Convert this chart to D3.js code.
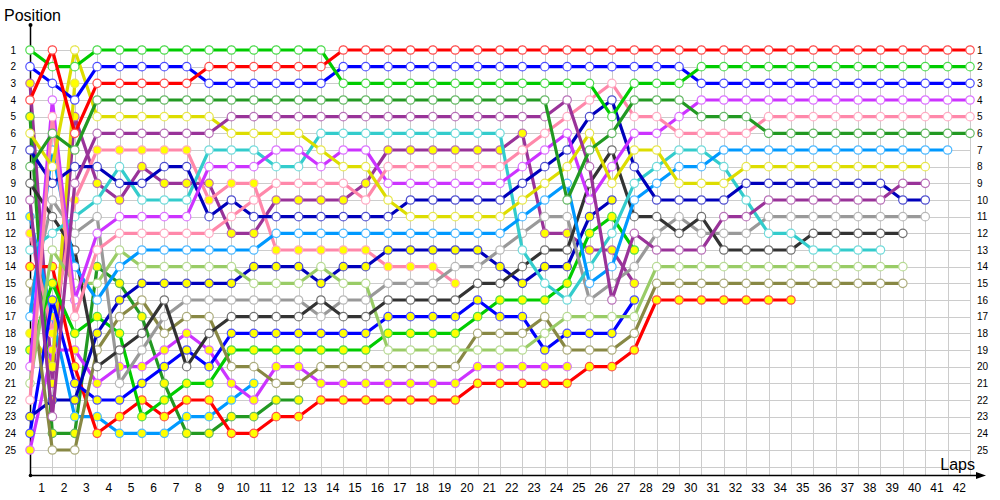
<!DOCTYPE html>
<html><head><meta charset="utf-8">
<script src="https://cdn.jsdelivr.net/npm/d3@7/dist/d3.min.js"></script>
<style>body{margin:0;background:#fff}svg{display:block}text{font-family:"Liberation Sans",Arial,sans-serif}</style>
</head><body><svg id="c" width="1000" height="500"></svg>
<script>
const laps = d3.range(0, 43);          // 0 = grid, 1..42 laps
const lapLabels = d3.range(1, 43);
const positions = d3.range(1, 26);
const rep = (v, n) => Array(n).fill(v);

// white-marker drivers
const redW    = [4,1,6,3,3,3,3,3,2,2,2,2,2,2, ...rep(1,29)];
const greenW  = [1,2,2, ...rep(1,11), ...rep(3,12), 5,3,3,3, ...rep(2,13)];
const blueW   = [2,3,4, ...rep(2,5), ...rep(3,6), ...rep(2,16), ...rep(3,13)];
const dkgreenW= [8,6,7, ...rep(4,21), 10,7,6,4,4,4,5,5,5, ...rep(6,10)];
const purpleW = [10,23,9, ...rep(6,6), ...rep(5,15), 4,8,16,12,13,13,13,11,11, ...rep(10,6), 9,9];
const yellowW = [6,8,1, ...rep(5,6), 6,6,6,6,7,8,8,10, ...rep(11,5), 10,9,8,6,9,7,7,9,9,9, ...rep(8,9)];
const pinkW   = [22,5,17,13, ...rep(12,5), 11,10,9,9,9,9,10, ...rep(8,6), 7,6,5,4,3,5,5,6,6,6,6, ...rep(5,10)];
const cyanW   = [13,12,11,10,8,10,10,10,7,7,7,8,8, ...rep(6,9), 13,15,16,14,12,9,8,7,7,8,10,12,12,13,13,13,13];
const navyW   = [7,9,8,8,9,9,8,8,11,10, ...rep(11,7), ...rep(10,5), 9,8,7,5,4,8,10,10,10,10, ...rep(9,7), 10,10];
const violetW = [20,4,16,12,11,11,11,11,8,8,8,7,7,8,7,7, ...rep(9,6), 8,7,6,10,8,6,6,5, ...rep(4,13)];
const ltblueW = [17,7,14,16,14, ...rep(13,6), ...rep(12,11), 11,10,9,15,14,10,9,8,8, ...rep(7,11)];
const grayW   = [16,10,12,11,21,19,17, ...rep(16,6), 17,16,16,15,15,15,14,14,13,12,11,11,16,15,14,12,11,12,12,12, ...rep(11,8)];
const dkgrayW = [9,11,13,20,19,18,16,20,18,17,17,17,17,16,17,17,16,16,16,16,15,15,14,13,13,9,7,11,11,12,11,13,13,13,13, ...rep(12,5)];
const oliveW  = [15,25,25,19,17,16,18,17,17,20,20,21,21, ...rep(20,7), 18,18,18,17,19,19,19,18, ...rep(15,12)];
const ltgreenW= [21,13,15,15,13, ...rep(14,5), 15,15,15,14,15,15, ...rep(19,7), 18,17,17,17,17, ...rep(14,12)];
// yellow-marker drivers
const redY    = [14,14,20,24,23,22,23,22,22,24,24,23,23, ...rep(22,7), ...rep(21,5), 20,20,19, ...rep(16,7)];
const greenY  = [19,15,18,17,18,23,22,21,21, ...rep(19,7), 18,18,18,18,17,16,16,16,15,12,11,13];
const blueY   = [24,16,21,22,22,21,20,19,20, ...rep(18,7), 17,17,17,17,16,17,17,19,18,18,18,16];
const navyY   = [23,22,22,18,16,15,15,15,15,15,14,14,14,15,14,14, ...rep(13,5), 14,15,14,14,11,10];
const purpleY = [3,21,5,9,10,8,9,9,9,12,12,10,10,10,10,9, ...rep(7,6), 6,12,12,13,13,15];
const dkgreenY= [5,24,24,14,15,17,21,24,24,23,23,22,22];
const ltblueY = [11,17,23,23,24,24,24,23,23,22,21];
const pinkY   = [12,18,10,7,7,7,7,7,10,9,9,13,13,13,13,13,14,14,14,15];
const violetY = [25,19,19,21,20,20,19,18,19,21,22,20,20, ...rep(21,7), ...rep(20,5)];
const yellowY = [18,20,3];

const seriesList = [
  [purpleY,"#993399",1],[dkgreenY,"#229922",1],[ltblueY,"#0099ff",1],[pinkY,"#ff88aa",1],
  [violetY,"#cc33ff",1],[yellowY,"#dddd00",1],[redY,"#ff0000",1],[greenY,"#00cc00",1],
  [blueY,"#0000ff",1],[navyY,"#0000bb",1],
  [oliveW,"#888844",0],[ltgreenW,"#99cc66",0],[grayW,"#999999",0],[dkgrayW,"#333333",0],
  [cyanW,"#33cccc",0],[ltblueW,"#0099ff",0],[navyW,"#0000bb",0],[violetW,"#cc33ff",0],
  [pinkW,"#ff88aa",0],[yellowW,"#dddd00",0],[purpleW,"#993399",0],[dkgreenW,"#229922",0],
  [blueW,"#0000ff",0],[greenW,"#00cc00",0],[redW,"#ff0000",0]
];

const svg = d3.select("#c");
const x = d3.scaleLinear().domain([0,42]).range([30,970]);
const y = d3.scaleLinear().domain([1,25]).range([50,450]);

// grid
const g = svg.append("g").attr("stroke","#cccccc").attr("stroke-width",1);
g.selectAll("line.v").data(laps.slice(1)).join("line")
  .attr("x1",d=>Math.round(x(d))+0.5).attr("x2",d=>Math.round(x(d))+0.5)
  .attr("y1",45).attr("y2",475);
g.selectAll("line.h").data(d3.range(1,27)).join("line")
  .attr("x1",30).attr("x2",Math.round(x(42))+0.5)
  .attr("y1",d=>Math.round(y(d))+0.5).attr("y2",d=>Math.round(y(d))+0.5);

// axes
const xAxis = d3.axisBottom(x).tickValues(lapLabels.map(n=>n-0.5)).tickFormat(d=>d+0.5).tickSize(0).tickPadding(8);
const xa = svg.append("g").attr("transform","translate(0,475.5)").call(xAxis);
xa.select(".domain").remove();
xa.selectAll("text").attr("font-size",12).attr("font-family","'DejaVu Sans',sans-serif").attr("fill","#000");

const yAxisL = d3.axisLeft(y).tickValues(positions).tickSize(0).tickPadding(14);
const yl = svg.append("g").attr("transform","translate(30,0)").call(yAxisL);
yl.select(".domain").remove();
yl.selectAll("text").attr("font-size",10).attr("font-family","'DejaVu Sans',sans-serif").attr("fill","#000");

const yAxisR = d3.axisRight(y).tickValues(positions).tickSize(0).tickPadding(7);
const yr = svg.append("g").attr("transform","translate(970,0)").call(yAxisR);
yr.select(".domain").remove();
yr.selectAll("text").attr("font-size",10).attr("font-family","'DejaVu Sans',sans-serif").attr("fill","#000");

svg.append("line").attr("x1",30.5).attr("x2",30.5).attr("y1",25).attr("y2",475.5).attr("stroke","#000").attr("stroke-width",1.5);
svg.append("line").attr("x1",30).attr("x2",978).attr("y1",475.5).attr("y2",475.5).attr("stroke","#000").attr("stroke-width",1.5);
svg.append("path").attr("d","M986,475.5 L976,472 L976,479 Z").attr("fill","#000");
svg.append("circle").attr("cx",30.5).attr("cy",25).attr("r",2).attr("fill","#000");
svg.append("circle").attr("cx",30.5).attr("cy",475.5).attr("r",1.8).attr("fill","#000");

svg.append("text").attr("x",4).attr("y",21).attr("font-size",16).text("Position");
svg.append("text").attr("x",975).attr("y",470).attr("text-anchor","end").attr("font-size",16).text("Laps");

// lines and markers
const line = d3.line().x((d,i)=>x(i)).y(d=>y(d));
const sg = svg.append("g");
seriesList.forEach(([vals,col,yel])=>{
  const gg = sg.append("g");
  gg.append("path").datum(vals).attr("d",line).attr("fill","none")
    .attr("stroke",col).attr("stroke-width",3.2).attr("stroke-linejoin","round");
  const light = d3.interpolateRgb(col,"#ffffff")(0.3);
  gg.selectAll("circle").data(vals).join("circle")
    .attr("cx",(d,i)=>x(i)).attr("cy",d=>y(d)).attr("r",4.2)
    .attr("fill",yel? "#ffff00" : "#ffffff")
    .attr("stroke",light).attr("stroke-width",1.2);
});
</script></body></html>
